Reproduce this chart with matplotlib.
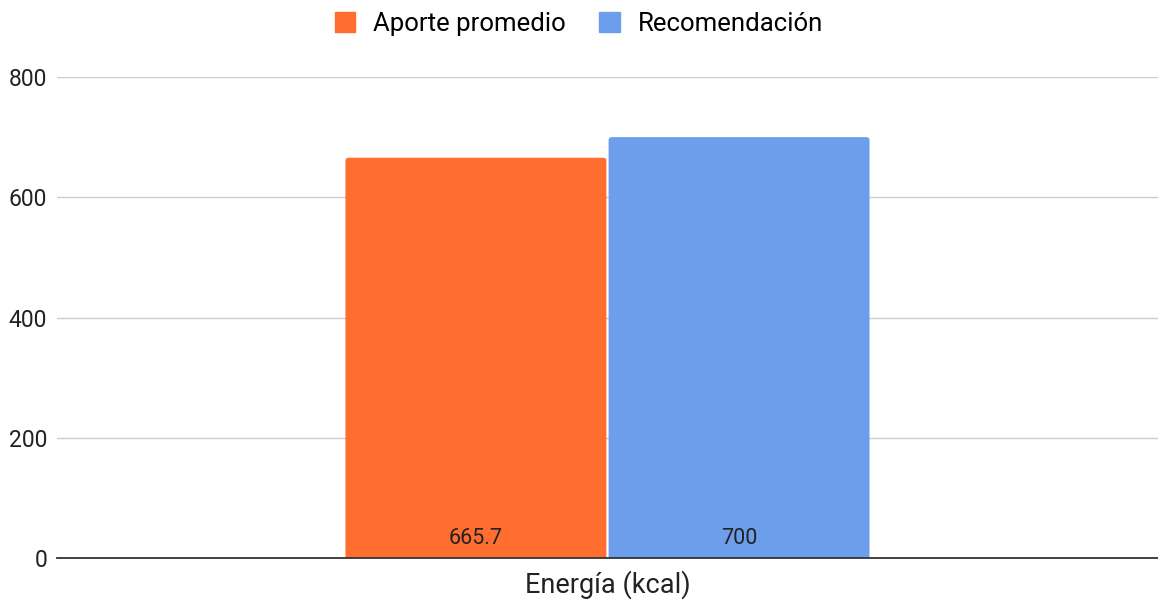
import matplotlib.pyplot as plt
from matplotlib.patches import Patch, FancyBboxPatch

# Data
category = 'Energía (kcal)'
series_names = ['Aporte promedio', 'Recomendación']
values = [665.7, 700]
value_labels = ['665.7', '700']
colors = ['#FF6D2F', '#6D9EEB']

plt.rcParams['font.family'] = ['Roboto', 'DejaVu Sans']

fig = plt.figure(figsize=(11.58, 6.01), dpi=100)
ax = fig.add_axes([0.0492, 0.0715, 0.9508, 0.8004])

bar_w = 0.478
offsets = [-bar_w / 2, bar_w / 2]
for off, val, lab, col in zip(offsets, values, value_labels, colors):
    bar = ax.bar(off, val, width=bar_w, color=col, zorder=3)[0]
    bar.set_visible(False)
    # rounded top corners, bottom hidden below the axis
    x0, w, h = bar.get_x() + 0.002, bar.get_width() - 0.004, bar.get_height()
    ax.add_patch(FancyBboxPatch((x0, -20), w, h + 20,
                                boxstyle='round,pad=0,rounding_size=0.006',
                                mutation_aspect=800, facecolor=col,
                                edgecolor='none', zorder=3))
    ax.text(off, 33, lab, ha='center', va='center', fontsize=15.5, color='#222222', zorder=4)

ax.set_xlim(-1, 1)
ax.set_ylim(0, 800)
ax.set_yticks([0, 200, 400, 600, 800])
ax.set_xticks([])
ax.grid(axis='y', color='#cccccc', linewidth=1, zorder=0)
for s in ['top', 'right', 'left']:
    ax.spines[s].set_visible(False)
ax.spines['bottom'].set_color('#333333')
ax.spines['bottom'].set_linewidth(1.3)
ax.spines['bottom'].set_zorder(5)
ax.tick_params(axis='y', length=0, labelsize=16.5, labelcolor='#222222', pad=7)
ax.set_xlabel(category, fontsize=19.5, color='#222222', labelpad=9)

handles = [Patch(facecolor=c, edgecolor=c) for c in colors]
fig.legend(handles, series_names, loc='center', bbox_to_anchor=(0.5, 0.96), ncol=2,
           frameon=False, fontsize=18.5, handlelength=0.8, handleheight=0.8,
           handletextpad=0.7, columnspacing=1.3)

fig.savefig('out.png', dpi=100)
